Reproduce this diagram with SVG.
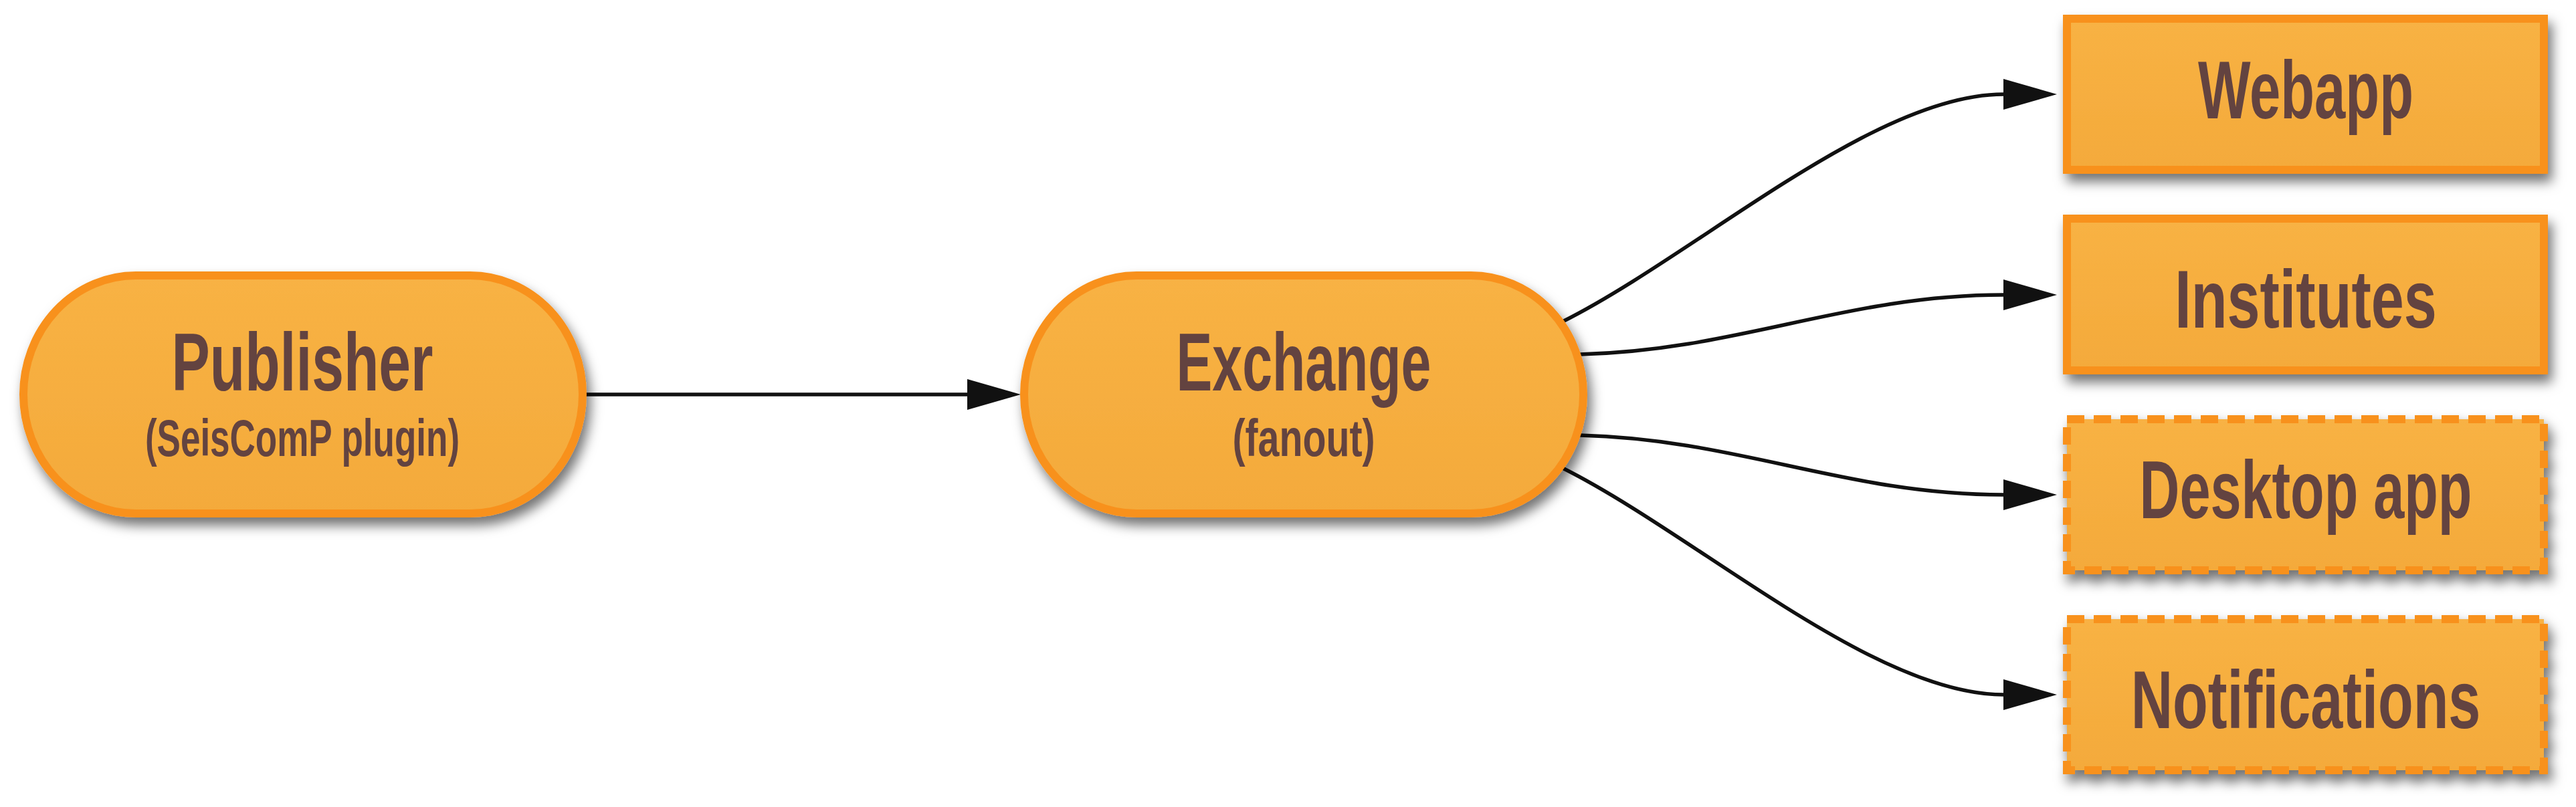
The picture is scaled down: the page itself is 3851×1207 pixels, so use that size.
<svg xmlns="http://www.w3.org/2000/svg" width="3851" height="1207" viewBox="0 0 3851 1207">
<defs>
<linearGradient id="fillg" x1="0" y1="0" x2="0" y2="1">
<stop offset="0" stop-color="#F8B244"/>
<stop offset="1" stop-color="#F4AA3B"/>
</linearGradient>
<filter id="shadow" x="-10%" y="-10%" width="125%" height="135%">
<feDropShadow dx="6" dy="12" stdDeviation="9" flood-color="#000" flood-opacity="0.55"/>
</filter>
<marker id="arrow" markerUnits="userSpaceOnUse" markerWidth="82" markerHeight="48" refX="0" refY="24" orient="auto" viewBox="0 0 82 48">
<path d="M0,1 L80,24 L0,47 Z" fill="#111"/>
</marker>
<style>
.shape{fill:url(#fillg);stroke:#F8911E;stroke-width:12;}
.dashed{stroke-dasharray:26 14;}
.t{font-family:"Liberation Sans Narrow","Liberation Sans",Arial,sans-serif;font-weight:bold;fill:#634340;text-anchor:middle;}
.big{font-size:122px;}
.small{font-size:78px;}
.conn{fill:none;stroke:#111;stroke-width:5.5;marker-end:url(#arrow);}
</style>
</defs>
<rect width="3851" height="1207" fill="#fff"/>
<g id="connectors">
<path class="conn" d="M875,590 L1446,590"/>
<path class="conn" d="M2336,481 C2536,381 2800,141 2995,141"/>
<path class="conn" d="M2362,530 C2600,524 2760,441 2995,441"/>
<path class="conn" d="M2362,651 C2600,657 2760,740 2995,740"/>
<path class="conn" d="M2336,700 C2536,800 2800,1039 2995,1039"/>
</g>
<g id="publisher">
<rect class="shape" x="35" y="412" width="836" height="356" rx="168" ry="178" filter="url(#shadow)"/>
<text class="t big" transform="translate(452,584) scale(0.72,1)" x="0" y="0" textLength="543" lengthAdjust="spacingAndGlyphs">Publisher</text>
<text class="t small" transform="translate(452,682) scale(0.72,1)" x="0" y="0" textLength="653" lengthAdjust="spacingAndGlyphs">(SeisComP plugin)</text>
</g>
<g id="exchange">
<rect class="shape" x="1531" y="412" width="836" height="356" rx="168" ry="178" filter="url(#shadow)"/>
<text class="t big" transform="translate(1949,584) scale(0.72,1)" x="0" y="0" textLength="529" lengthAdjust="spacingAndGlyphs">Exchange</text>
<text class="t small" transform="translate(1949,682) scale(0.72,1)" x="0" y="0" textLength="296" lengthAdjust="spacingAndGlyphs">(fanout)</text>
</g>
<g id="webapp">
<rect class="shape" x="3090" y="28" width="713" height="226" filter="url(#shadow)"/>
<text class="t big" transform="translate(3447,177) scale(0.72,1)" x="0" y="0" textLength="447" lengthAdjust="spacingAndGlyphs">Webapp</text>
</g>
<g id="institutes">
<rect class="shape" x="3090" y="327" width="713" height="227" filter="url(#shadow)"/>
<text class="t big" transform="translate(3447,490) scale(0.72,1)" x="0" y="0" textLength="544" lengthAdjust="spacingAndGlyphs">Institutes</text>
</g>
<g id="desktop-app">
<rect class="shape dashed" x="3090" y="627" width="713" height="226" filter="url(#shadow)"/>
<text class="t big" transform="translate(3447,775) scale(0.72,1)" x="0" y="0" textLength="690" lengthAdjust="spacingAndGlyphs">Desktop app</text>
</g>
<g id="notifications">
<rect class="shape dashed" x="3090" y="926" width="713" height="226" filter="url(#shadow)"/>
<text class="t big" transform="translate(3447,1089) scale(0.72,1)" x="0" y="0" textLength="726" lengthAdjust="spacingAndGlyphs">Notifications</text>
</g>
</svg>
